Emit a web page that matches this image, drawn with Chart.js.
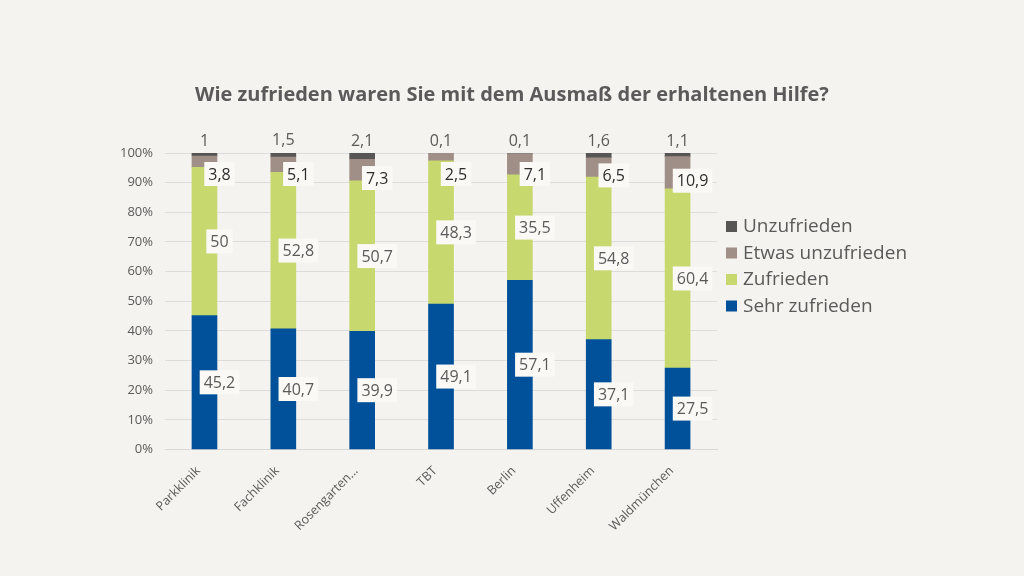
<!DOCTYPE html>
<html lang="de">
<head>
<meta charset="utf-8">
<title>Zufriedenheit mit dem Ausmaß der erhaltenen Hilfe</title>
<script src="https://cdn.jsdelivr.net/npm/chart.js@4/dist/chart.umd.min.js"></script>
<style>
    html, body { margin: 0; padding: 0; background: #f4f3ef; }
    #wrap { width: 1024px; height: 576px; }
</style>
</head>
<body>
<div id="wrap"><canvas id="chart" width="1024" height="576"></canvas></div>
<script>
const categories = ['Parkklinik', 'Fachklinik', 'Rosengarten...', 'TBT', 'Berlin', 'Uffenheim', 'Waldmünchen'];

const sehrZufrieden = [45.2, 40.7, 39.9, 49.1, 57.1, 37.1, 27.5];
const zufrieden = [50, 52.8, 50.7, 48.3, 35.5, 54.8, 60.4];
const etwasUnzufrieden = [3.8, 5.1, 7.3, 2.5, 7.1, 6.5, 10.9];
const unzufrieden = [1, 1.5, 2.1, 0.1, 0.1, 1.6, 1.1];

const seriesNames = ['Sehr zufrieden', 'Zufrieden', 'Etwas unzufrieden', 'Unzufrieden'];
const seriesColors = ['#00519a', '#c7d96e', '#a08f87', '#575655'];
const yTicks = [0, 10, 20, 30, 40, 50, 60, 70, 80, 90, 100];

const chartTitle = 'Wie zufrieden waren Sie mit dem Ausmaß der erhaltenen Hilfe?';

const FONT = '"Open Sans", "Noto Sans", sans-serif';
const TEXT_GRAY = '#5a5a5a';

function fmt(v) {
    return String(v).replace('.', ',');
}

// Titel über die ganze Breite zentriert
const centerTitle = {
    id: 'centerTitle',
    afterDraw(chart) {
        const ctx = chart.ctx;
        ctx.save();
        ctx.font = 'bold 20px ' + FONT;
        ctx.fillStyle = TEXT_GRAY;
        ctx.textAlign = 'center';
        ctx.textBaseline = 'middle';
        ctx.fillText(chartTitle, chart.width / 2, 95);
        ctx.restore();
    }
};

// Wertelabels: Kästchen rechts neben der Säule, oben ohne Kasten
const valueLabels = {
    id: 'valueLabels',
    afterDatasetsDraw(chart) {
        const ctx = chart.ctx;
        ctx.save();
        ctx.textAlign = 'center';
        ctx.textBaseline = 'middle';
        chart.data.datasets.forEach((ds, di) => {
            const meta = chart.getDatasetMeta(di);
            meta.data.forEach((bar, i) => {
                const txt = fmt(ds.data[i]);
                ctx.font = '16px ' + FONT;
                if (di === 3) {
                    ctx.fillStyle = TEXT_GRAY;
                    ctx.fillText(txt, bar.x, bar.y - 12);
                    return;
                }
                let y = (bar.y + bar.base) / 2;
                if (di === 2) y = Math.max(y + 8, chart.chartArea.top + 21);
                const x = bar.x + 15;
                const w = ctx.measureText(txt).width + 8;
                const h = 24;
                ctx.fillStyle = '#faf9f6';
                ctx.fillRect(x - w / 2, y - h / 2, w, h);
                ctx.fillStyle = di === 2 ? '#2e2e2e' : TEXT_GRAY;
                ctx.fillText(txt, x, y + 1);
            });
        });
        ctx.restore();
    }
};

// Legende rechts, umgekehrte Reihenfolge
const sideLegend = {
    id: 'sideLegend',
    afterDraw(chart) {
        const ctx = chart.ctx;
        const x0 = 726;
        const y0 = 226;
        const step = 26.5;
        ctx.save();
        ctx.font = '19px ' + FONT;
        ctx.textBaseline = 'middle';
        const n = chart.data.datasets.length;
        for (let k = 0; k < n; k++) {
            const ds = chart.data.datasets[n - 1 - k];
            const y = y0 + k * step;
            ctx.fillStyle = ds.backgroundColor;
            ctx.fillRect(x0, y - 5, 11, 11);
            ctx.fillStyle = TEXT_GRAY;
            ctx.fillText(ds.label, x0 + 17, y + 1);
        }
        ctx.restore();
    }
};

const datasets = [sehrZufrieden, zufrieden, etwasUnzufrieden, unzufrieden].map((data, i) => ({
    label: seriesNames[i],
    data: data,
    backgroundColor: seriesColors[i],
    borderWidth: 0,
    barThickness: 25
}));

new Chart(document.getElementById('chart').getContext('2d'), {
    type: 'bar',
    data: { labels: categories, datasets: datasets },
    plugins: [valueLabels, sideLegend, centerTitle],
    options: {
        responsive: false,
        animation: false,
        devicePixelRatio: 1,
        layout: { padding: { left: 108, right: 307, top: 153, bottom: 36 } },
        plugins: {
            legend: { display: false },
            tooltip: { enabled: false },
            title: { display: false }
        },
        scales: {
            x: {
                stacked: true,
                grid: { display: false },
                border: { color: '#d9d9d9' },
                ticks: {
                    color: TEXT_GRAY,
                    font: { family: FONT, size: 12.5 },
                    minRotation: 45,
                    maxRotation: 45,
                    labelOffset: -6,
                    padding: 6
                }
            },
            y: {
                stacked: true,
                min: 0,
                max: 100,
                afterBuildTicks(axis) {
                    axis.ticks = yTicks.map(v => ({ value: v }));
                },
                grid: { color: '#dcdcdc', drawTicks: false },
                border: { display: false },
                ticks: {
                    color: TEXT_GRAY,
                    font: { family: FONT, size: 13 },
                    padding: 12,
                    callback: v => v + '%'
                }
            }
        }
    }
});
</script>
</body>
</html>
